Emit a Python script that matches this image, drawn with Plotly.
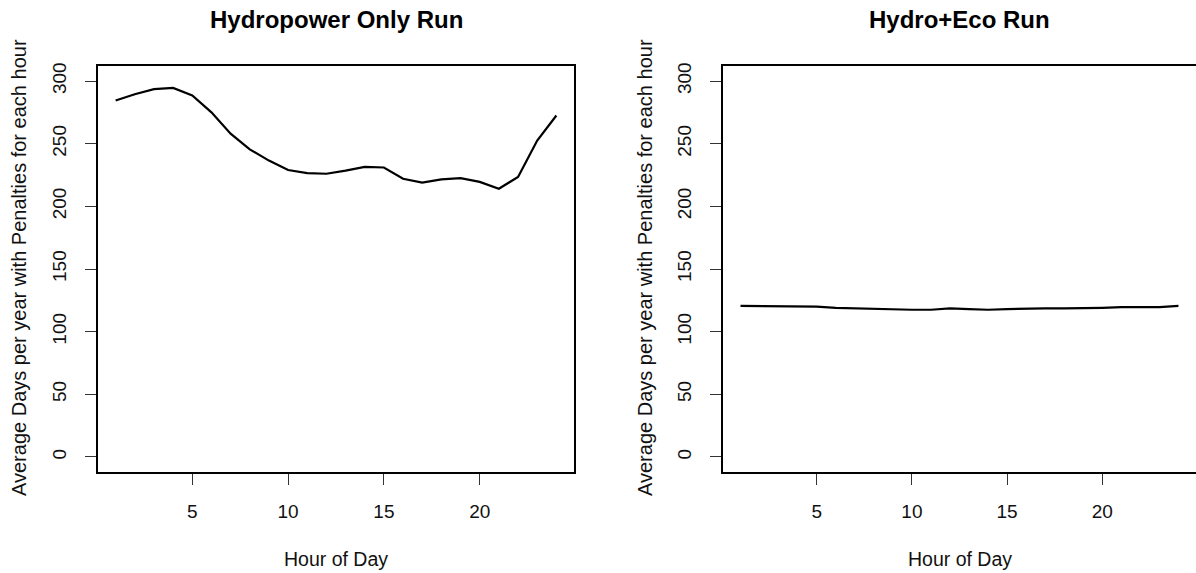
import plotly.graph_objects as go

# Hour of day (1..24)
hours = list(range(1, 25))

# Average days per year with penalties, hydropower-only scenario
hydro_only = [284.5, 289.5, 293.5, 294.5, 288.5, 275.0, 258.0, 245.5, 236.5, 229.0,
              226.5, 226.0, 228.5, 231.5, 231.0, 222.0, 219.0, 221.5, 222.5, 219.5,
              214.0, 223.5, 252.5, 272.5]

# Average days per year with penalties, hydro + ecological scenario
hydro_eco = [120.5, 120.5, 120.5, 120.5, 120.0, 119.0, 118.5, 118.5, 118.0, 117.5,
             117.5, 118.5, 118.0, 117.5, 118.0, 118.5, 118.5, 118.5, 118.5, 119.0,
             119.5, 119.5, 119.5, 120.5]

panel_titles = ["Hydropower Only Run", "Hydro+Eco Run"]
x_title = "Hour of Day"
y_title = "Average Days per year with Penalties for each hour"
x_ticks = [5, 10, 15, 20]
y_ticks = [0, 50, 100, 150, 200, 250, 300]

W, H = 1196, 573
FONT = "Liberation Sans, Arial, sans-serif"

x_domains = [[98 / W, 574 / W], [723 / W, 1.0]]
y_domain = [1 - 472 / H, 1 - 66 / H]

fig = go.Figure()
fig.add_trace(go.Scatter(x=hours, y=hydro_only, mode="lines",
                         line=dict(color="black", width=2.2),
                         xaxis="x", yaxis="y", showlegend=False))
fig.add_trace(go.Scatter(x=hours, y=hydro_eco, mode="lines",
                         line=dict(color="black", width=2.2),
                         xaxis="x2", yaxis="y2", showlegend=False))

axis_common = dict(
    showgrid=False, zeroline=False, showline=True, linecolor="black", linewidth=2,
    ticks="outside", ticklen=11, tickwidth=1, tickcolor="#333",
    tickfont=dict(family=FONT, size=19, color="#111"), automargin=False,
)

for i, suffix in enumerate(["", "2"]):
    fig.layout["xaxis" + suffix] = dict(
        axis_common, domain=x_domains[i], range=[0.08, 24.92],
        tickmode="array", tickvals=x_ticks, ticklabelstandoff=10,
        mirror=True, anchor="y" + suffix,
    )
    fig.layout["yaxis" + suffix] = dict(
        axis_common, domain=y_domain, range=[-12, 312],
        tickmode="array", tickvals=y_ticks, tickangle=-90, ticklabelstandoff=11,
        mirror=(i == 0), anchor="x" + suffix,
    )

annotations = []
for i in range(2):
    cx = (x_domains[i][0] + x_domains[i][1]) / 2
    annotations.append(dict(
        text="<b>%s</b>" % panel_titles[i], x=cx, y=1 - 19 / H, xref="paper", yref="paper",
        showarrow=False, xanchor="center", yanchor="middle",
        font=dict(family=FONT, size=24, color="black")))
    annotations.append(dict(
        text=x_title, x=cx, y=1 - 559 / H, xref="paper", yref="paper",
        showarrow=False, xanchor="center", yanchor="middle",
        font=dict(family=FONT, size=19.5, color="#111")))
    annotations.append(dict(
        text=y_title, x=[19 / W, 645 / W][i], y=1 - 268 / H,
        xref="paper", yref="paper", textangle=-90,
        showarrow=False, xanchor="center", yanchor="middle",
        font=dict(family=FONT, size=20, color="#111")))

fig.update_layout(
    width=W, height=H,
    margin=dict(l=0, r=0, t=0, b=0),
    paper_bgcolor="white", plot_bgcolor="white",
    annotations=annotations,
)

fig.write_html("out.html")
